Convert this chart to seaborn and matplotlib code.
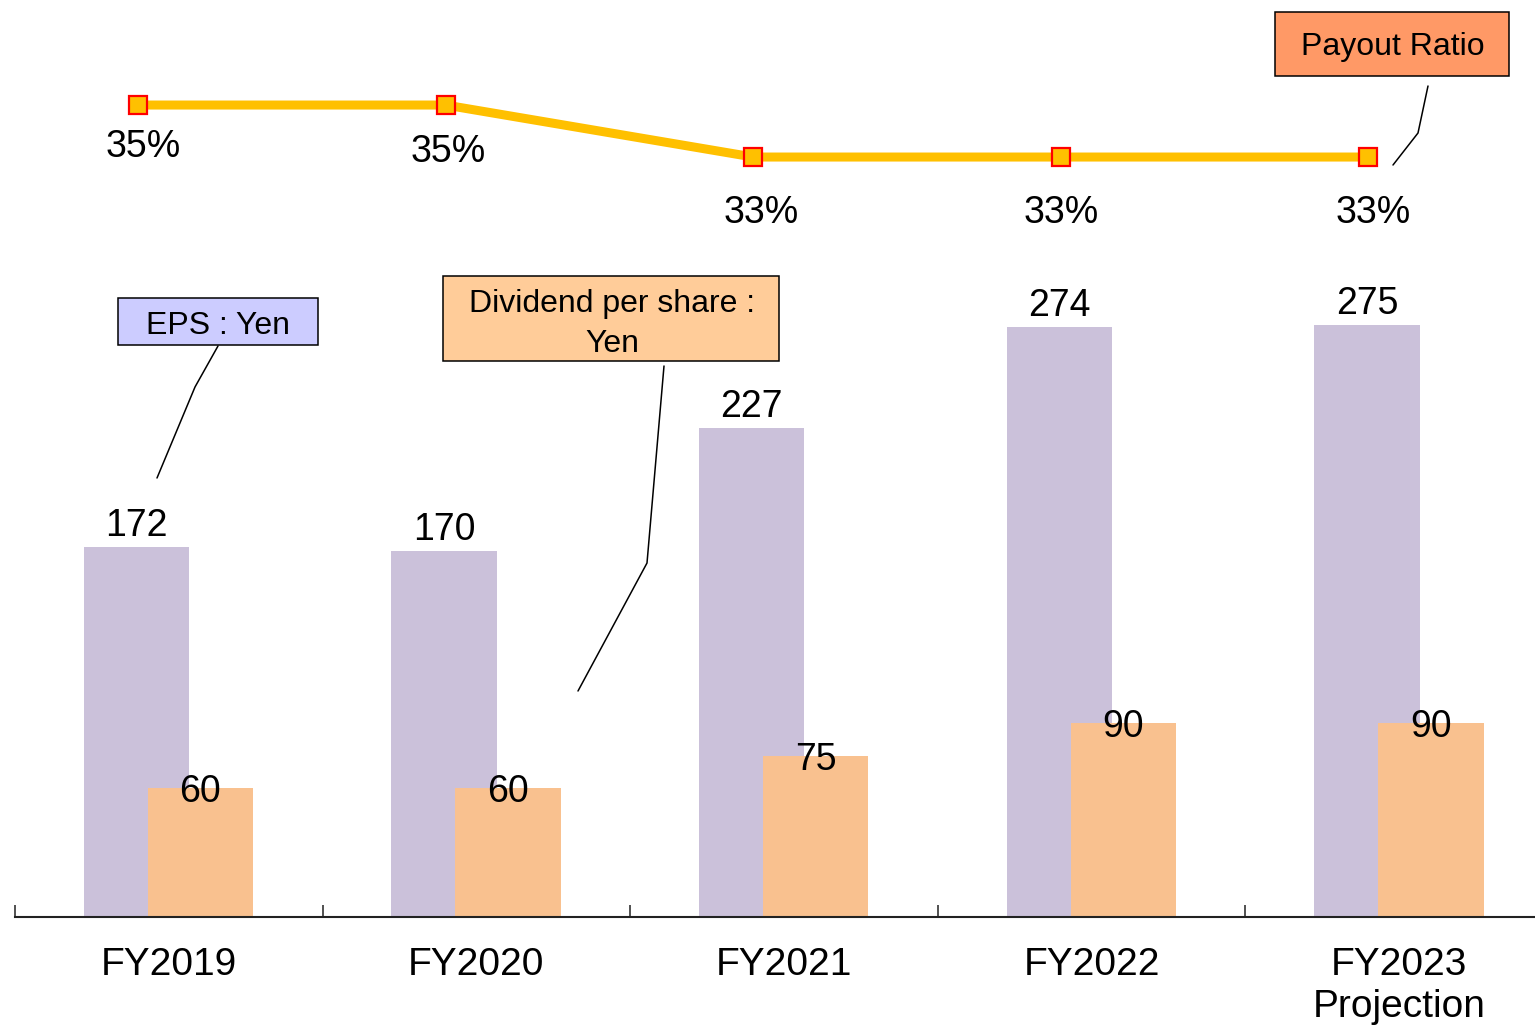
import numpy as np
import pandas as pd
import matplotlib
matplotlib.use("Agg")
import matplotlib.pyplot as plt
import seaborn as sns
from matplotlib.patches import Rectangle

# ---------------- data ----------------
categories = ["FY2019", "FY2020", "FY2021", "FY2022", "FY2023\nProjection"]
eps = [172, 170, 227, 274, 275]
dividend = [60, 60, 75, 90, 90]
payout = [35, 35, 33, 33, 33]

# ---------------- style ----------------
sns.set_style("white")
plt.rcParams["font.family"] = ["Liberation Sans", "DejaVu Sans"]
plt.rcParams["text.color"] = "black"
plt.rcParams["xtick.color"] = "black"
plt.rcParams["xtick.labelcolor"] = "black"
plt.rcParams["axes.labelcolor"] = "black"

W, H, DPI = 1535, 1028, 100
fig = plt.figure(figsize=(W / DPI, H / DPI), dpi=DPI)
fig.patch.set_facecolor("white")


def px_rect(left, top, right, bottom):
    return [left / W, 1 - bottom / H, (right - left) / W, (bottom - top) / H]


EPS_COLOR = "#CBC1DA"
DIV_COLOR = "#F9C18F"
LINE_COLOR = "#FFC000"
EPS_OFF, DIV_OFF, LINE_OFF = -0.105, 0.103, -0.10
BAR_W = 0.343
NUM_FS = 27

ax = fig.add_axes(px_rect(15, 0, 15 + 5 * 307.6, 917))
idx = np.arange(len(categories))

eps_df = pd.DataFrame({"pos": idx + EPS_OFF, "value": eps})
div_df = pd.DataFrame({"pos": idx + DIV_OFF, "value": dividend})
sns.barplot(data=eps_df, x="pos", y="value", native_scale=True, width=BAR_W,
            color=EPS_COLOR, saturation=1, linewidth=0, errorbar=None, ax=ax)
sns.barplot(data=div_df, x="pos", y="value", native_scale=True, width=BAR_W,
            color=DIV_COLOR, saturation=1, linewidth=0, errorbar=None, ax=ax)

ax.set_xlim(-0.5, len(categories) - 0.5)
ax.set_ylim(0, 917 / 2.153)
for s in ["top", "right", "left"]:
    ax.spines[s].set_visible(False)
ax.spines["bottom"].set_color("#222222")
ax.spines["bottom"].set_linewidth(1.5)
ax.set_xticks(idx, categories)
ax.set_xticks(np.arange(-0.5, len(categories), 1), minor=True)
ax.tick_params(axis="x", which="major", bottom=True, length=0, pad=21.5,
               labelsize=28, labelcolor="black")
ax.tick_params(axis="x", which="minor", bottom=True, length=8.6, width=1.1,
               direction="in", color="#222222")
for lbl in ax.get_xticklabels():
    lbl.set_linespacing(1.22)
ax.set_yticks([])
ax.set_xlabel("")
ax.set_ylabel("")
ax.patch.set_alpha(0)

for i, v in enumerate(eps):
    ax.annotate(str(v), (idx[i] + EPS_OFF, v), xytext=(0, 11),
                textcoords="offset pixels", ha="center", va="baseline",
                fontsize=NUM_FS, color="black")
for i, v in enumerate(dividend):
    ax.annotate(str(v), (idx[i] + DIV_OFF, v), xytext=(0, -14),
                textcoords="offset pixels", ha="center", va="baseline",
                fontsize=NUM_FS, color="black")

# ---------------- payout line ----------------
ax2 = ax.twinx()
ax2.set_ylim(3.77, 39.04)
line_df = pd.DataFrame({"pos": idx + LINE_OFF, "ratio": payout})
sns.lineplot(data=line_df, x="pos", y="ratio", ax=ax2, color=LINE_COLOR,
             linewidth=6.5, marker="s", markersize=12.5,
             markerfacecolor=LINE_COLOR, markeredgecolor="#FF0000",
             markeredgewidth=1.6)
ax2.set_xlim(-0.5, len(categories) - 0.5)
ax2.axis("off")

pct_dx = [5, 3, 8, 0, 5]
pct_dy = [-52, -57, -66, -66, -66]
for i, v in enumerate(payout):
    ax2.annotate(f"{v}%", (idx[i] + LINE_OFF, v), xytext=(pct_dx[i], pct_dy[i]),
                 textcoords="offset pixels", ha="center", va="baseline",
                 fontsize=NUM_FS, color="black")

# ---------------- callouts ----------------
ov = fig.add_axes([0, 0, 1, 1])
ov.set_xlim(0, W)
ov.set_ylim(H, 0)
ov.axis("off")
ov.patch.set_alpha(0)

BOX_FS = 23
# EPS box
ov.add_patch(Rectangle((118, 298), 200, 47, facecolor="#CCCCFF",
                       edgecolor="black", linewidth=1.1))
ov.text(218, 333.5, "EPS : Yen", ha="center", va="baseline", fontsize=BOX_FS)
ov.plot([218, 195, 157], [346, 387, 478], color="black", linewidth=1.1)

# Dividend box
ov.add_patch(Rectangle((443, 276), 336, 85, facecolor="#FFCC99",
                       edgecolor="black", linewidth=1.1))
ov.text(612, 312, "Dividend per share :", ha="center", va="baseline", fontsize=BOX_FS)
ov.text(612, 352, "Yen", ha="center", va="baseline", fontsize=BOX_FS)
ov.plot([664, 647, 578], [366, 563, 691], color="black", linewidth=1.1)

# Payout box
ov.add_patch(Rectangle((1275, 12), 234, 64, facecolor="#FF9966",
                       edgecolor="black", linewidth=1.1))
ov.text(1393, 55, "Payout Ratio", ha="center", va="baseline", fontsize=BOX_FS)
ov.plot([1428, 1418, 1393], [86, 133, 165], color="black", linewidth=1.1)

fig.savefig("out.png", dpi=DPI)
